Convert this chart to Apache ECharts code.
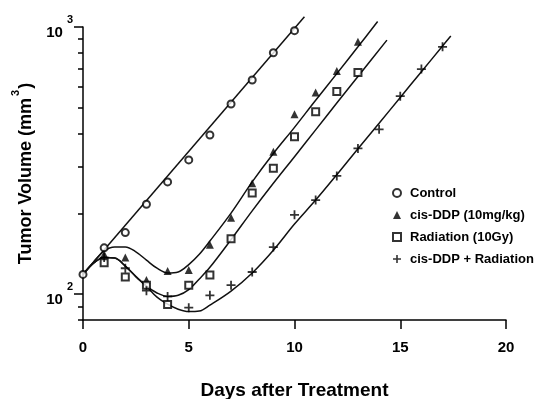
<!DOCTYPE html>
<html>
<head>
<meta charset="utf-8">
<script src="https://cdn.jsdelivr.net/npm/echarts@6/dist/echarts.min.js"></script>
<style>
  html, body { margin: 0; background: #fff; }
  #chart { width: 548px; height: 399px; }
</style>
</head>
<body>
<div id="chart"></div>
<script>
// measured points (day, volume mm3)
const controlPts = [[0,118.5],[1,149],[2,170],[3,217],[4,263],[5,318],[6,394],[7,515],[8,633],[9,801],[10,969]];
const cisPts = [[1,141],[2,137],[3,113],[4,122],[5,123],[6,153],[7,193],[8,260],[9,341],[10,471],[11,568],[12,684],[13,881]];
const radPts = [[1,131],[2,116],[3,108],[4,91.5],[5,108],[6,118],[7,161],[8,239],[9,296],[10,388],[11,482],[12,573],[13,676]];
const comboPts = [[1,137],[2,125],[3,103],[4,98],[5,89],[6,99],[7,108],[8,121],[9,150],[10,198],[11,225],[12,277],[13,351],[14,414],[15,551],[16,696],[17,843]];

// fitted curves
const controlFitDays = [0, 10.47];
const controlFitVol = [118.5, 1093];
const cisFitDays = [0,0.5,1,1.5,2,2.5,3,3.5,4,4.5,5,5.5,6,7,8,9,10,11,12,13,13.93];
const cisFitVol = [118.5,132,145,150,150,144,134,125,120,121,129,141,158,201,263,336,421,532,669,843,1048];
const radFitDays = [0,0.5,1,1.5,2,2.5,3,3.5,4,4.5,5,5.5,6,7,8,9,10,11,12,13,14.37];
const radFitVol = [118.5,130.6,137,136.4,127.3,116.3,107.1,101,98,99,104,114,126,160,205,260,327,412,519,653,893];
const comboFitDays = [0,0.5,1,1.5,2,2.5,3,3.5,4,4.5,5,5.5,6,7,8,9,10,11,12,13,14,15,16,17,17.39];
const comboFitVol = [118.5,130.6,137,136.4,127.3,116.3,107.1,97.4,91.7,87.8,86,86.4,90.9,102.6,120,146,183,225,280,350,436,545,680,849,925];

// axis ticks
const xTicks = [0, 5, 10, 15, 20];
const yMajor = [100, 1000];
const yMinor = [80, 90, 200, 300, 400, 500, 600, 700, 800, 900];

const FONT = '"Liberation Sans", Arial, sans-serif';
const plusSym = 'path://M4,0H6V4H10V6H6V10H4V6H0V4H4Z';

const zip = (a, b) => a.map((d, i) => [d, b[i]]);

function fitLine(name, days, vols) {
  return {
    name: name,
    type: 'line',
    data: zip(days, vols),
    showSymbol: false,
    smooth: 0.35,
    clip: false,
    silent: true,
    z: 1,
    lineStyle: { color: '#111', width: 1.5 }
  };
}

const chart = echarts.init(document.getElementById('chart'), null, { renderer: 'canvas' });

const option = {
  backgroundColor: '#fff',
  animation: false,
  grid: { left: 83, right: 42, top: 27, bottom: 79, outerBoundsMode: 'none' },
  legend: {
    data: ['Control', 'cis-DDP (10mg/kg)', 'Radiation (10Gy)', 'cis-DDP + Radiation'],
    orient: 'vertical',
    left: 387,
    top: 181,
    itemWidth: 8,
    itemHeight: 8,
    itemGap: 8,
    textStyle: { fontSize: 13, fontWeight: 'bold', fontFamily: FONT, color: '#000', lineHeight: 14, padding: [0, 0, 0, 4] }
  },
  xAxis: {
    type: 'value',
    min: 0, max: 20, interval: 5,
    name: 'Days after Treatment',
    nameLocation: 'middle',
    nameGap: 61,
    nameTextStyle: { fontSize: 19, fontWeight: 'bold', fontFamily: FONT, color: '#000' },
    axisLine: { show: true, onZero: false, lineStyle: { color: '#000', width: 1.5 } },
    axisTick: { show: true, inside: false, length: 9, customValues: xTicks, lineStyle: { color: '#000', width: 1.5 } },
    axisLabel: { margin: 20, fontSize: 15, fontWeight: 'bold', fontFamily: FONT, color: '#000', customValues: xTicks },
    splitLine: { show: false }
  },
  yAxis: [{
    type: 'log',
    logBase: 10,
    min: 80, max: 1000,
    position: 'left',
    name: '{t|Tumor Volume (mm}{s|3}{t|)}',
    nameLocation: 'middle',
    nameRotate: 90,
    nameGap: 46,
    nameTextStyle: {
      rich: {
        t: { fontSize: 18, fontWeight: 'bold', fontFamily: FONT, color: '#000', lineHeight: 25, verticalAlign: 'bottom' },
        s: { fontSize: 11, fontWeight: 'bold', fontFamily: FONT, color: '#000', verticalAlign: 'top', padding: [0, 1, 0, 2] }
      }
    },
    axisLine: { show: true, lineStyle: { color: '#000', width: 1.5 } },
    axisTick: { show: true, inside: false, length: 9, customValues: yMajor, lineStyle: { color: '#000', width: 1.5 } },
    axisLabel: {
      customValues: yMajor,
      margin: 10,
      formatter: v => '{b|10}{s|' + Math.round(Math.log10(v)) + '}',
      rich: {
        b: { fontSize: 15, fontWeight: 'bold', fontFamily: FONT, color: '#000', lineHeight: 26, verticalAlign: 'bottom' },
        s: { fontSize: 11, fontWeight: 'bold', fontFamily: FONT, color: '#000', verticalAlign: 'top', padding: [0, 0, 0, 4] }
      }
    },
    splitLine: { show: false }
  }, {
    // minor ticks only
    type: 'log',
    logBase: 10,
    min: 80, max: 1000,
    position: 'left',
    axisLine: { show: false },
    axisTick: { show: true, inside: false, length: 5, customValues: yMinor, lineStyle: { color: '#000', width: 1.5 } },
    axisLabel: { show: false },
    splitLine: { show: false }
  }],
  series: [
    fitLine('fit-control', controlFitDays, controlFitVol),
    fitLine('fit-cis', cisFitDays, cisFitVol),
    fitLine('fit-rad', radFitDays, radFitVol),
    fitLine('fit-combo', comboFitDays, comboFitVol),
    {
      name: 'Control', type: 'scatter', data: controlPts,
      symbol: 'emptyCircle', symbolSize: 7, z: 3,
      itemStyle: { color: '#000', borderColor: '#000', borderWidth: 1.5 }
    },
    {
      name: 'cis-DDP (10mg/kg)', type: 'scatter', data: cisPts,
      symbol: 'triangle', symbolSize: 8, z: 3,
      itemStyle: { color: '#000' }
    },
    {
      name: 'Radiation (10Gy)', type: 'scatter', data: radPts,
      symbol: 'emptyRect', symbolSize: 7, z: 3,
      itemStyle: { color: '#000', borderColor: '#000', borderWidth: 1.5 }
    },
    {
      name: 'cis-DDP + Radiation', type: 'scatter', data: comboPts,
      symbol: plusSym, symbolSize: 9, z: 3,
      itemStyle: { color: '#000' }
    }
  ]
};

chart.setOption(option);
</script>
</body>
</html>
